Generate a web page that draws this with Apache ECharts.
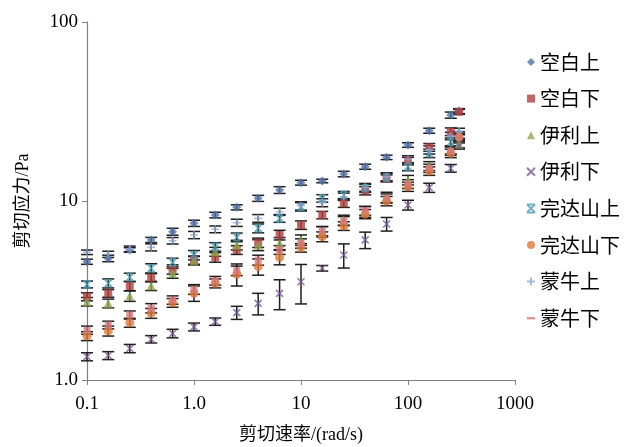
<!DOCTYPE html>
<html>
<head>
<meta charset="utf-8">
<script src="https://cdn.jsdelivr.net/npm/echarts@6/dist/echarts.min.js"></script>
<style>
  html, body { margin: 0; padding: 0; background: #fff; }
  #main { width: 631px; height: 447px; }
</style>
</head>
<body>
<div id="main"></div>
<script>
// shear rate (rad/s)
const shearRate = [0.1, 0.158, 0.251, 0.398, 0.631, 1, 1.58, 2.51, 3.98, 6.31, 10, 15.8, 25.1, 39.8, 63.1, 100, 158, 251, 300];

// shear stress (Pa) per sample
const kbUp = [4.58, 4.78, 5.33, 6.06, 6.74, 7.51, 8.35, 9.22, 10.35, 11.52, 12.66, 12.94, 14.15, 15.55, 17.54, 20.55, 24.7, 30.2, 31.8];
const kbDown = [2.92, 3.05, 3.35, 3.73, 4.15, 4.68, 4.85, 5.33, 5.85, 6.46, 7.34, 8.35, 9.71, 11.42, 13.39, 16.73, 19.95, 24.4, 31.5];
const ylUp = [2.74, 2.68, 2.95, 3.36, 3.95, 4.64, 5.21, 5.68, 5.68, 5.80, 6.06, 6.74, 7.83, 8.71, 10.49, 13.10, 15.69, 19.3, 20.8];
const ylDown = [1.35, 1.37, 1.50, 1.69, 1.82, 1.98, 2.12, 2.38, 2.68, 3.05, 3.54, 4.21, 4.99, 6.06, 7.44, 9.50, 11.87, 15.24, 20.3];
const wdsUp = [3.42, 3.47, 3.75, 4.21, 4.54, 4.99, 5.55, 6.27, 7.04, 8.00, 9.29, 10.35, 10.81, 11.78, 13.56, 15.55, 18.47, 21.4, 23.4];
const wdsDown = [1.76, 1.88, 2.09, 2.36, 2.70, 3.05, 3.47, 3.90, 4.30, 4.85, 5.48, 6.32, 7.25, 8.46, 10.0, 12.02, 14.71, 18.47, 22.9];
const mnUp = [5.17, 5.04, 5.40, 5.51, 6.00, 6.46, 6.95, 7.56, 8.00, 8.71, 9.40, 9.79, 10.57, 11.93, 13.67, 17.10, 19.3, 23.1, 24.5];
const mnDown = [1.90, 2.03, 2.31, 2.52, 2.80, 3.21, 3.59, 4.08, 4.68, 5.33, 5.80, 6.80, 7.73, 8.83, 10.35, 12.45, 15.24, 19.0, 22.5];

// standard deviation (Pa)
const kbUpErr = [0.15, 0.2, 0.15, 0.2, 0.3, 0.3, 0.3, 0.3, 0.4, 0.5, 0.4, 0.3, 0.5, 0.5, 0.5, 0.6, 0.8, 1.2, 1.0];
const kbDownErr = [0.15, 0.15, 0.2, 0.2, 0.25, 0.25, 0.3, 0.3, 0.35, 0.4, 0.4, 0.4, 0.5, 0.6, 0.6, 0.8, 1.0, 1.2, 1.0];
const ylUpErr = [0.15, 0.15, 0.2, 0.2, 0.25, 0.25, 0.3, 0.35, 0.4, 0.45, 0.4, 0.45, 0.5, 0.6, 0.7, 0.8, 0.9, 1.0, 1.0];
const ylDownErr = [0.07, 0.07, 0.08, 0.08, 0.1, 0.1, 0.1, 0.2, 0.37, 0.58, 0.88, 0.15, 0.77, 0.64, 0.65, 0.6, 0.7, 0.75, 0.8];
const wdsUpErr = [0.15, 0.2, 0.2, 0.25, 0.25, 0.3, 0.3, 0.35, 0.4, 0.4, 0.5, 0.5, 0.5, 0.6, 0.7, 0.8, 1.0, 1.1, 1.0];
const wdsDownErr = [0.1, 0.12, 0.12, 0.15, 0.15, 0.3, 0.2, 0.55, 0.45, 0.45, 0.3, 0.4, 0.4, 0.5, 0.6, 0.7, 0.8, 1.0, 1.0];
const mnUpErr = [0.15, 0.2, 0.2, 0.25, 0.25, 0.3, 0.3, 0.35, 0.4, 0.4, 0.5, 0.5, 0.5, 0.6, 0.7, 0.8, 1.0, 1.1, 1.0];
const mnDownErr = [0.1, 0.1, 0.12, 0.15, 0.15, 0.2, 0.2, 0.25, 0.3, 0.3, 0.35, 0.4, 0.45, 0.5, 0.6, 0.7, 0.8, 1.0, 1.0];

const xLabels = {0.1: '0.1', 1: '1.0', 10: '10', 100: '100', 1000: '1000'};
const yLabels = {1: '1.0', 10: '10', 100: '100'};

const xPath = 'path://M0,0L10,10M10,0L0,10';
const starPath = 'path://M0,0L10,0M0,10L10,10M0,0L10,10M10,0L0,10';
const plusPath = 'path://M5,0L5,10M0,5L10,5';
const dashPath = 'path://M0,0L10,0L10,3L0,3Z';

const groups = [
  {name: '空白上', y: kbUp, err: kbUpErr, color: '#4f72a8', symbol: 'diamond', size: 9},
  {name: '空白下', y: kbDown, err: kbDownErr, color: '#b0403e', symbol: 'rect', size: 8},
  {name: '伊利上', y: ylUp, err: ylUpErr, color: '#8fa84f', symbol: 'triangle', size: 9},
  {name: '伊利下', y: ylDown, err: ylDownErr, color: '#7a5a95', symbol: xPath, size: 7, line: true},
  {name: '完达山上', y: wdsUp, err: wdsUpErr, color: '#4b9db4', symbol: starPath, size: 7, line: true},
  {name: '完达山下', y: wdsDown, err: wdsDownErr, color: '#e0793a', symbol: 'circle', size: 9},
  {name: '蒙牛上', y: mnUp, err: mnUpErr, color: '#93a6d4', symbol: plusPath, size: 8, line: true},
  {name: '蒙牛下', y: mnDown, err: mnDownErr, color: '#d9787c', symbol: dashPath, size: 7},
];

function renderErr(params, api) {
  const x = api.value(0), y = api.value(1), e = api.value(2);
  const hi = api.coord([x, y + e]);
  const lo = api.coord([x, y - e]);
  const w = 6;
  const style = {stroke: '#1e1e1e', lineWidth: 1.5};
  return {
    type: 'group',
    children: [
      {type: 'line', shape: {x1: hi[0], y1: hi[1], x2: lo[0], y2: lo[1]}, style: style},
      {type: 'line', shape: {x1: hi[0] - w, y1: hi[1], x2: hi[0] + w, y2: hi[1]}, style: style},
      {type: 'line', shape: {x1: lo[0] - w, y1: lo[1], x2: lo[0] + w, y2: lo[1]}, style: style},
    ]
  };
}

const series = [];
groups.forEach((g) => {
  series.push({
    name: g.name + '_err',
    type: 'custom',
    renderItem: renderErr,
    data: shearRate.map((x, i) => [x, g.y[i], g.err[i]]),
    encode: {x: 0, y: 1},
    silent: true,
    z: 1,
  });
});
groups.forEach((g) => {
  series.push({
    name: g.name,
    type: 'scatter',
    symbol: g.symbol,
    symbolSize: g.size,
    data: shearRate.map((x, i) => [x, g.y[i]]),
    itemStyle: g.line
      ? {color: 'rgba(0,0,0,0)', borderColor: g.color, borderWidth: 1.6}
      : {color: g.color},
    z: 2,
  });
});

const chart = echarts.init(document.getElementById('main'));
chart.setOption({
  animation: false,
  backgroundColor: '#fff',
  grid: {left: 87, right: 116, top: 22, bottom: 67, containLabel: false, outerBoundsMode: 'none'},
  legend: {
    data: groups.map((g) => g.name),
    orient: 'vertical',
    left: 521,
    top: 46,
    itemWidth: 8,
    itemHeight: 8,
    itemGap: 14.6,
    textStyle: {fontFamily: 'Noto Sans CJK SC', fontSize: 20, lineHeight: 22, color: '#000', padding: [0, 0, 0, 0]},
  },
  xAxis: {
    type: 'log',
    logBase: 10,
    min: 0.1,
    max: 1000,
    name: '剪切速率/(rad/s)',
    nameLocation: 'middle',
    nameGap: 46,
    nameTextStyle: {fontFamily: 'Liberation Serif, Noto Sans CJK SC', fontSize: 18, color: '#000'},
    axisLine: {lineStyle: {color: '#7f7f7f', width: 1.2}},
    axisTick: {show: true, inside: false, length: 5, lineStyle: {color: '#7f7f7f'}},
    splitLine: {show: false},
    axisLabel: {
      fontFamily: 'Liberation Serif', fontSize: 19, color: '#000', margin: 15,
      formatter: (v) => xLabels[+v.toPrecision(3)] || ''
    },
  },
  yAxis: {
    type: 'log',
    logBase: 10,
    min: 1,
    max: 100,
    name: '剪切应力/Pa',
    nameLocation: 'middle',
    nameGap: 55,
    nameTextStyle: {fontFamily: 'Liberation Serif, Noto Sans CJK SC', fontSize: 18, color: '#000'},
    axisLine: {show: true, lineStyle: {color: '#7f7f7f', width: 1.2}},
    axisTick: {show: true, inside: false, length: 5, lineStyle: {color: '#7f7f7f'}},
    splitLine: {show: false},
    axisLabel: {
      fontFamily: 'Liberation Serif', fontSize: 19, color: '#000', margin: 9,
      formatter: (v) => yLabels[+v.toPrecision(3)] || ''
    },
  },
  series: series,
});
</script>
</body>
</html>
